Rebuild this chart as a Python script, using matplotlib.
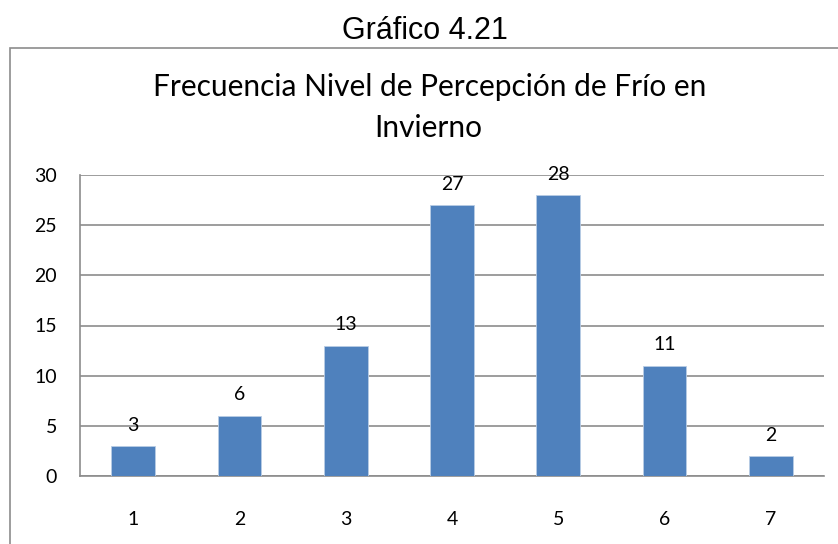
import numpy as np
import matplotlib.pyplot as plt
from matplotlib.patches import Rectangle

categorias = ["1", "2", "3", "4", "5", "6", "7"]
frecuencias = [3, 6, 13, 27, 28, 11, 2]
y_ticks = [0, 5, 10, 15, 20, 25, 30]

plt.rcParams['font.family'] = ['Lato', 'DejaVu Sans']

W, H = 838, 544
fig = plt.figure(figsize=(W / 100, H / 100), dpi=100)

# marco del gráfico (se corta por la derecha y por abajo)
fig.patches.append(Rectangle((10 / W, -0.05), 1.0, 1 - 48 / H + 0.05,
                             transform=fig.transFigure, fill=False,
                             edgecolor="#8c8c8c", linewidth=1.2))

fig.text(425 / W, 1 - 39 / H, "Gráfico 4.21", ha="center", va="baseline",
         fontsize=22, family=["Liberation Sans", "DejaVu Sans"])

fig.text(430 / W, 1 - 96 / H, "Frecuencia Nivel de Percepción de Frío en",
         ha="center", va="baseline", fontsize=21.5)
fig.text(428 / W, 1 - 137 / H, "Invierno",
         ha="center", va="baseline", fontsize=21.5)

ax = fig.add_axes([80 / W, 1 - 476 / H, (824 - 80) / W, (476 - 175) / H])
x = np.arange(1, len(categorias) + 1)
ax.bar(x, frecuencias, width=0.41, color="#4f81bd", edgecolor="#b9cde5",
       linewidth=0.6, zorder=3)

for xi, v in zip(x, frecuencias):
    ax.annotate(str(v), (xi, v), xytext=(0, 15), textcoords="offset points",
                ha="center", va="center", fontsize=14)

ax.set_xlim(0.5, len(categorias) + 0.5)
ax.set_ylim(0, 30)
ax.set_yticks(y_ticks)
ax.set_xticks(x)
ax.set_xticklabels(categorias)
ax.yaxis.grid(True, color="#8c8c8c", linewidth=1.2, zorder=0)
ax.tick_params(length=0, labelsize=14)
ax.tick_params(axis="y", pad=16.5)
ax.tick_params(axis="x", pad=25)
for s in ["top", "right"]:
    ax.spines[s].set_visible(False)
for s in ["left", "bottom"]:
    ax.spines[s].set_color("#8c8c8c")
    ax.spines[s].set_linewidth(1.2)

fig.savefig("out.png", dpi=100)
